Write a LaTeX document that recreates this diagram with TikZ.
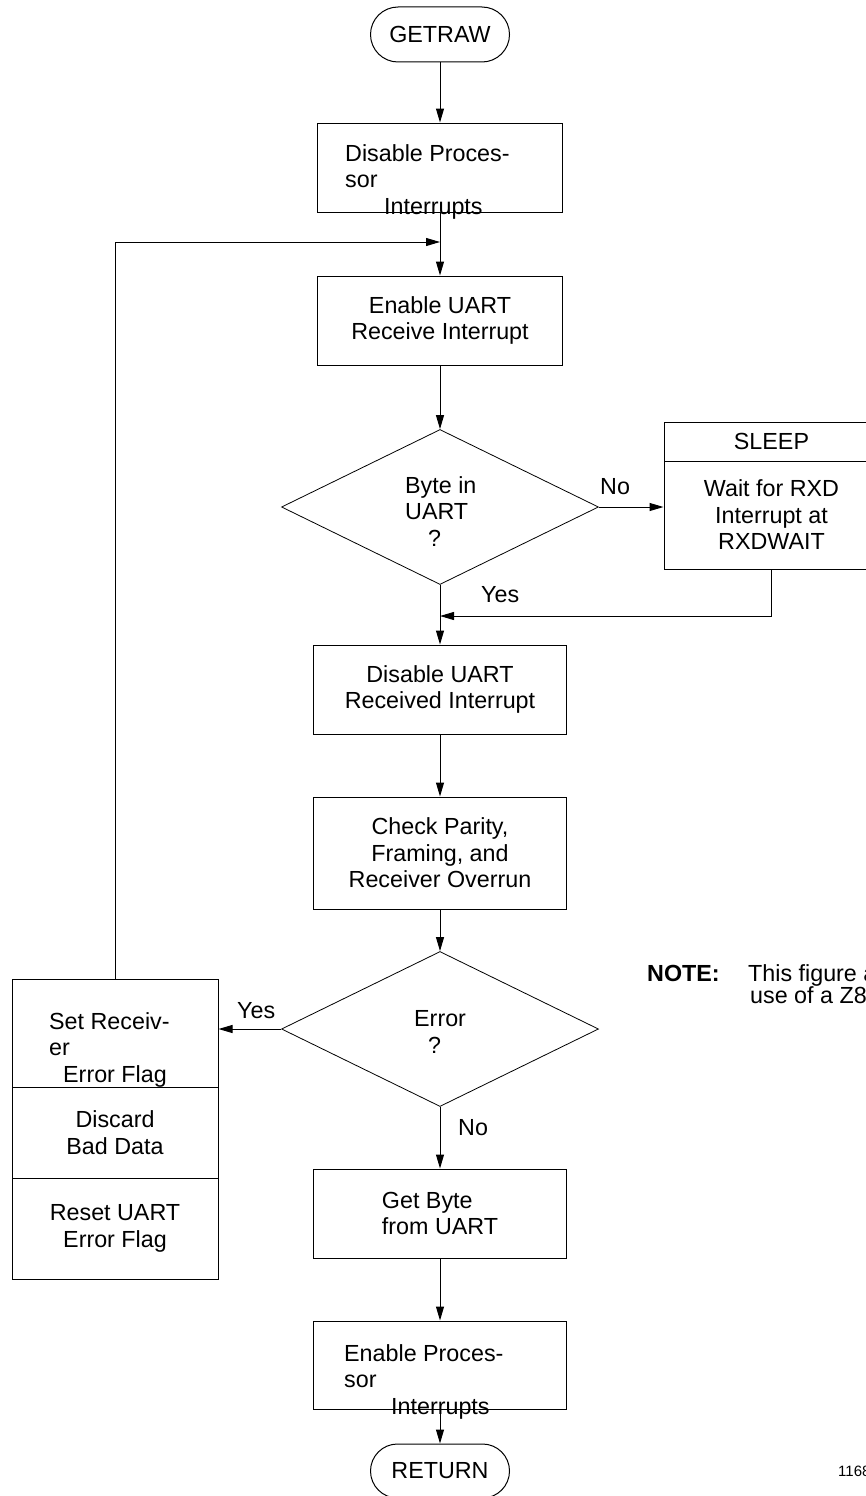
\documentclass[tikz,border=0pt]{standalone}
\usepackage{fontspec}
\setmainfont{Liberation Sans}
\usetikzlibrary{positioning,arrows.meta,shapes.geometric,shapes.misc}

\begin{document}
\begin{tikzpicture}[x=1pt,y=-1pt,
  font=\fontsize{23.3}{26.5}\selectfont,
  box/.style={draw,line width=1pt,inner sep=0pt,align=center,minimum width=253pt,minimum height=89pt},
  term/.style={draw,line width=1pt,rounded rectangle,inner sep=0pt,minimum width=139pt,minimum height=55pt},
  dec/.style={draw,line width=0.8pt,diamond,inner sep=0pt,minimum width=317pt,minimum height=155pt},
  txt/.style={anchor=base west,inner sep=0pt,align=left},
  arr/.style={-{Triangle[length=14pt,width=8pt]},line width=1pt}]
\useasboundingbox (0,0) rectangle (865,1496);
% main column
\node[term] (getraw) at (440,34.5) {GETRAW};
\node[box,minimum width=245pt] (dproc) at (440,167.5) {};
\node[box,minimum width=245pt] (euart) at (440,320.5) {Enable UART\\Receive Interrupt};
\node[dec] (byte) at (440,507) {};
\node[box] (duart) at (440,689.5) {Disable UART\\Received Interrupt};
\node[box,minimum height=112pt] (chk) at (440,853) {Check Parity,\\Framing, and\\Receiver Overrun};
\node[dec] (err) at (440,1029) {};
\node[box,align=left] (getb) at (440,1213.5) {Get Byte\\from UART};
\node[box,minimum height=88pt] (eproc) at (440,1365) {};
\node[term,minimum height=54pt] (ret) at (440,1471) {RETURN};
% texts set off-centre (placed by their last line)
\node[txt] (dproct) at (345,214) {Disable Proces-\\sor\\\hspace*{39pt}Interrupts};
\node[txt] (eproct) at (344,1414) {Enable Proces-\\sor\\\hspace*{47pt}Interrupts};
\node[txt] (bytet) at (405,546) {Byte in\\UART\\\hspace*{23pt}?};
\node[txt] (errt) at (414,1053) {Error\\\hspace*{14pt}?};
% SLEEP
\node[box,minimum width=215pt,minimum height=39pt] (slph) at (771.5,441.5) {SLEEP};
\node[box,minimum width=215pt,minimum height=108pt] (slp) at (771.5,515) {Wait for RXD\\Interrupt at\\RXDWAIT};
% error branch
\node[box,minimum width=206pt,minimum height=108pt] (srf) at (115,1033) {};
\node[box,minimum width=206pt,minimum height=91pt] (dbd) at (115,1132.5) {Discard\\Bad Data};
\node[box,minimum width=206pt,minimum height=101pt] (rue) at (115,1228.5) {Reset UART\\Error Flag};
\node[txt] (srft) at (49,1082) {Set Receiv-\\er\\\hspace*{14pt}Error Flag};
% labels
\node[txt] (no1) at (600,494) {No};
\node[txt] (yes1) at (481,602) {Yes};
\node[txt] (yes2) at (237,1018) {Yes};
\node[txt] (no2) at (458,1135) {No};
\node[txt,font=\fontsize{23.3}{26.5}\selectfont\bfseries] (note) at (647,981) {NOTE:};
\node[txt] (notet) at (748,1003) {This figure a\\[-4.5pt]\hspace*{2pt}use of a Z8};
\node[txt,font=\fontsize{15}{18}\selectfont] (fig) at (838,1476) {1168};
% connectors
\coordinate (lp) at (440,242);
\coordinate (jn) at (440,616);
\draw[arr] (getraw)--(dproc);
\draw[arr] (dproc)--(euart);
\draw[arr] (srf.north)|-(lp);
\draw[arr] (euart)--(byte);
\draw[arr] (byte.east)--(byte.east-|slp.west);
\draw[arr] (slp.south)|-(jn);
\draw[arr] (byte)--(duart);
\draw[arr] (duart)--(chk);
\draw[arr] (chk)--(err);
\draw[arr] (err.west)--(err.west-|srf.east);
\draw[arr] (err)--(getb);
\draw[arr] (getb)--(eproc);
\draw[arr] (eproc)--(ret);
\end{tikzpicture}
\end{document}
